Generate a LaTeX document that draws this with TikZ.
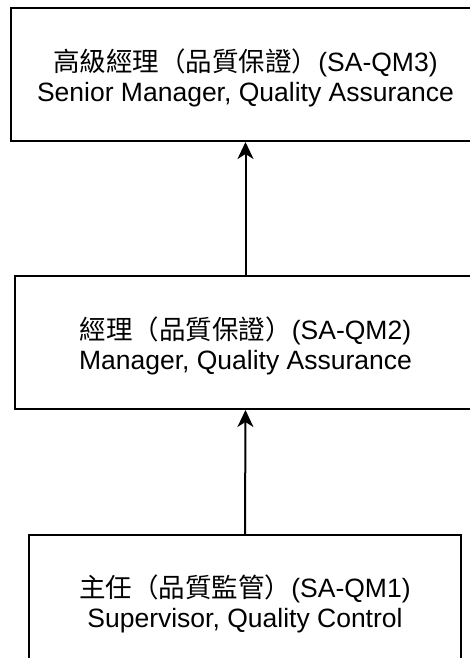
\documentclass[tikz,border=0pt]{standalone}
\usepackage{fontspec}
\setmainfont{Liberation Sans}
\newfontfamily\cjk{Noto Sans CJK TC}
\usetikzlibrary{arrows.meta}
\begin{document}
\begin{tikzpicture}[x=1pt,y=1pt,
  rolebox/.style={draw=black, line width=2pt, fill=white, inner sep=0pt},
  roletext/.style={inner sep=0pt, align=center, font=\fontsize{26.5}{30}\selectfont},
  link/.style={line width=2pt, -{Stealth[length=17pt,width=16pt,inset=5pt]}}]
\useasboundingbox (0,0) rectangle (470,-658);
\clip (0,0) rectangle (470,-658);
\fill[white] (0,0) rectangle (470,-658);
\node[rolebox, minimum width=469pt, minimum height=133pt] (top) at (245.5,-74.5) {};
\node[roletext] (toptext) at ([yshift=-3pt]top.center)
  {{\cjk 高級經理（品質保證）}(SA-QM3)\\Senior Manager, Quality Assurance};
\node[rolebox, minimum width=461pt, minimum height=133pt] (mid) at (245.5,-342.5) {};
\node[roletext] (midtext) at ([yshift=-3pt]mid.center)
  {{\cjk 經理（品質保證）}(SA-QM2)\\Manager, Quality Assurance};
\node[rolebox, minimum width=432pt, minimum height=135pt] (bot) at (245,-602.5) {};
\node[roletext] (bottext) at ([yshift=-1pt]bot.center)
  {{\cjk 主任（品質監管）}(SA-QM1)\\Supervisor, Quality Control};
\draw[link] (mid.north) -- (top.south);
\draw[link] (bot.north) -- (mid.south);
\end{tikzpicture}
\end{document}
